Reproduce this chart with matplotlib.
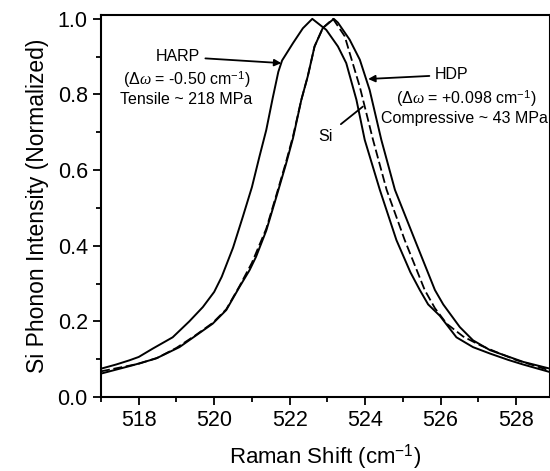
import matplotlib
matplotlib.use("Agg")
import matplotlib.pyplot as plt
from matplotlib.ticker import MultipleLocator

plt.rcParams['font.family'] = ['Liberation Sans', 'DejaVu Sans']
plt.rcParams['mathtext.fontset'] = 'custom'
plt.rcParams['mathtext.rm'] = 'Liberation Sans'
plt.rcParams['mathtext.it'] = 'Liberation Serif:italic'

harp_x = [517.0, 517.4, 517.75, 518.0, 518.37, 518.9, 519.34, 519.7, 520.0, 520.2,
          520.5, 520.76, 521.0, 521.2, 521.38, 521.55, 521.7, 521.8, 522.09, 522.35,
          522.6, 522.97, 523.28, 523.5, 523.77, 523.99, 524.39, 524.83, 525.2, 525.45,
          525.67, 525.98, 526.42, 526.86, 527.31, 527.8, 528.19, 528.9]
harp_y = [0.075, 0.086, 0.097, 0.106, 0.128, 0.158, 0.2, 0.238, 0.278, 0.318,
          0.395, 0.477, 0.555, 0.636, 0.706, 0.79, 0.86, 0.89, 0.936, 0.975,
          1.0, 0.971, 0.927, 0.883, 0.786, 0.68, 0.548, 0.415, 0.33, 0.283,
          0.245, 0.215, 0.158, 0.132, 0.115, 0.098, 0.086, 0.066]

hdp_x = [517.0, 517.84, 518.46, 519.08, 519.52, 519.96, 520.32, 520.67, 520.94, 521.11,
         521.38, 521.65, 521.9, 522.09, 522.31, 522.48, 522.66, 522.88, 523.17, 523.28,
         523.59, 523.86, 524.12, 524.43, 524.79, 525.32, 525.85, 526.07, 526.51, 526.86,
         527.31, 528.19, 528.9]
hdp_y = [0.062, 0.084, 0.102, 0.132, 0.163, 0.194, 0.23, 0.291, 0.336, 0.371,
         0.44, 0.53, 0.615, 0.685, 0.786, 0.848, 0.927, 0.976, 1.0, 0.99,
         0.945, 0.892, 0.812, 0.68, 0.548, 0.415, 0.283, 0.245, 0.185, 0.15,
         0.124, 0.093, 0.075]

si_x = [517.0, 517.5, 518.0, 518.5, 519.0, 519.5, 519.96, 520.32, 520.67, 521.0,
        521.38, 521.65, 521.9, 522.09, 522.31, 522.48, 522.66, 522.88, 523.15, 523.46,
        523.59, 523.86, 524.21, 524.57, 525.05, 525.58, 525.85, 526.16, 526.6, 527.05,
        527.5, 528.0, 528.46, 528.9]
si_y = [0.068, 0.078, 0.088, 0.104, 0.13, 0.163, 0.196, 0.232, 0.293, 0.355,
        0.445, 0.535, 0.62, 0.69, 0.786, 0.848, 0.927, 0.976, 1.0, 0.954,
        0.91, 0.82, 0.68, 0.548, 0.415, 0.283, 0.235, 0.194, 0.16, 0.137,
        0.118, 0.098, 0.084, 0.07]

fig = plt.figure(figsize=(5.5, 4.71), dpi=100)
ax = fig.add_axes([0.1836, 0.157, 0.8164, 0.811])

ax.plot(harp_x, harp_y, color='black', lw=1.4)
ax.plot(hdp_x, hdp_y, color='black', lw=1.4)
ax.plot(si_x, si_y, color='black', lw=1.3, linestyle=(0, (5, 2)))

ax.set_xlim(517, 528.9)
ax.set_ylim(0, 1.01)
ax.set_xticks([518, 520, 522, 524, 526, 528])
ax.xaxis.set_minor_locator(MultipleLocator(1))
ax.yaxis.set_major_locator(MultipleLocator(0.2))
ax.yaxis.set_minor_locator(MultipleLocator(0.1))
ax.yaxis.set_major_formatter(plt.FuncFormatter(lambda v, p: f"{v:.1f}"))
ax.tick_params(which='both', direction='out', top=False, right=False, width=1.3)
ax.tick_params(which='major', length=6, labelsize=15.5)
ax.tick_params(which='minor', length=3.5)
for s in ax.spines.values():
    s.set_linewidth(1.5)

ax.set_xlabel('Raman Shift (cm$^{-1}$)', fontsize=16, labelpad=8)
ax.set_ylabel('Si Phonon Intensity (Normalized)', fontsize=16.5, labelpad=6)

fs = 11.5
ax.annotate('HARP', xy=(521.78, 0.883), xytext=(519.62, 0.90),
            ha='right', va='center', fontsize=fs,
            arrowprops=dict(arrowstyle='-|>', color='black', lw=1.3,
                            mutation_scale=10, shrinkA=2, shrinkB=0))
ax.text(519.28, 0.839, '($\\Delta\\mathit{\\omega}$ = -0.50 cm$^{-1}$)', ha='center', va='center', fontsize=fs)
ax.text(519.26, 0.786, 'Tensile ~ 218 MPa', ha='center', va='center', fontsize=fs)

ax.annotate('HDP', xy=(524.08, 0.841), xytext=(525.85, 0.852),
            ha='left', va='center', fontsize=fs,
            arrowprops=dict(arrowstyle='-|>', color='black', lw=1.3,
                            mutation_scale=10, shrinkA=2, shrinkB=0))
ax.text(526.67, 0.79, '($\\Delta\\mathit{\\omega}$ = +0.098 cm$^{-1}$)', ha='center', va='center', fontsize=fs)
ax.text(526.62, 0.737, 'Compressive ~ 43 MPa', ha='center', va='center', fontsize=fs)

ax.annotate('Si', xy=(523.94, 0.768), xytext=(522.95, 0.689),
            ha='center', va='center', fontsize=fs,
            arrowprops=dict(arrowstyle='-', color='black', lw=1.3,
                            shrinkA=5, shrinkB=0))

fig.savefig('out.png', dpi=100)
